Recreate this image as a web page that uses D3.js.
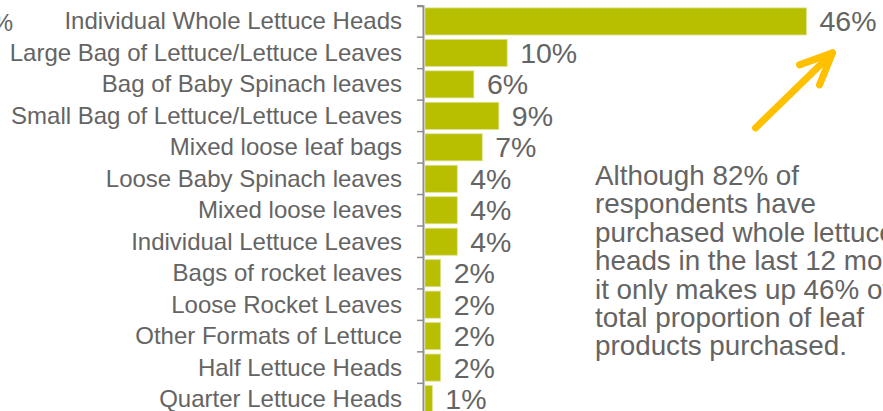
<!DOCTYPE html>
<html>
<head>
<meta charset="utf-8">
<script src="https://cdn.jsdelivr.net/npm/d3@7"></script>
<style>
  html, body { margin: 0; padding: 0; background: #fff; overflow: hidden; }
  svg { display: block; font-family: "Liberation Sans", Arial, sans-serif; }
</style>
</head>
<body>
<svg id="chart" width="883" height="411"></svg>
<script>
// Share of leaf products purchased, by format
const categories = [
  "Individual Whole Lettuce Heads",
  "Large Bag of Lettuce/Lettuce Leaves",
  "Bag of Baby Spinach leaves",
  "Small Bag of Lettuce/Lettuce Leaves",
  "Mixed loose leaf bags",
  "Loose Baby Spinach leaves",
  "Mixed loose leaves",
  "Individual Lettuce Leaves",
  "Bags of rocket leaves",
  "Loose Rocket Leaves",
  "Other Formats of Lettuce",
  "Half Lettuce Heads",
  "Quarter Lettuce Heads"
];
const values = [46, 10, 6, 9, 7, 4, 4, 4, 2, 2, 2, 2, 1];

const noteLines = [
  "Although 82% of",
  "respondents have",
  "purchased whole lettuce",
  "heads in the last 12 months,",
  "it only makes up 46% of the",
  "total proportion of leaf",
  "products purchased."
];

const svg = d3.select("#chart");
const textColor = "#646464";

const x = d3.scaleLinear().domain([0, 46]).range([424, 806.5]);
const y = d3.scaleBand()
  .domain(categories)
  .range([5.7, 5.7 + 31.47 * categories.length])
  .paddingInner(0.14)
  .paddingOuter(0.07);

// Stray tail of a neighbouring label at the top-left edge
svg.append("text")
  .attr("x", 13).attr("y", 31)
  .attr("text-anchor", "end")
  .attr("font-size", 24)
  .attr("fill", textColor)
  .text("%");

// Category axis: line and ticks only, labels drawn separately
const axis = d3.axisLeft(y).tickSize(6).tickSizeOuter(6).tickFormat("");
const ax = svg.append("g")
  .attr("transform", "translate(423,0)")
  .call(axis);
ax.select(".domain").attr("stroke", "#8e8e8e").attr("stroke-width", 2);
ax.selectAll(".tick line")
  .attr("stroke", "#8e8e8e").attr("stroke-width", 1.5)
  .attr("transform", `translate(0,${-y.step() / 2})`);

// Category labels
svg.append("g").selectAll("text")
  .data(categories)
  .join("text")
  .attr("x", 402)
  .attr("y", d => y(d) + y.bandwidth() / 2 + 8)
  .attr("text-anchor", "end")
  .attr("font-size", 24)
  .attr("fill", textColor)
  .text(d => d);

// Bars
svg.append("g").selectAll("rect")
  .data(values)
  .join("rect")
  .attr("x", x(0) + 1)
  .attr("y", (d, i) => y(categories[i]))
  .attr("width", d => x(d) - x(0) - 1)
  .attr("height", y.bandwidth())
  .attr("fill", "#b8be00")
  .attr("stroke", "#dde290")
  .attr("stroke-width", 0.8);

// Value labels
svg.append("g").selectAll("text")
  .data(values)
  .join("text")
  .attr("x", d => x(d) + 13)
  .attr("y", (d, i) => y(categories[i]) + y.bandwidth() / 2 + 10)
  .attr("font-size", 28.5)
  .attr("fill", textColor)
  .text(d => d + "%");

// Annotation
const note = svg.append("text")
  .attr("x", 595)
  .attr("font-size", 27.8)
  .attr("fill", textColor);
note.selectAll("tspan")
  .data(noteLines)
  .join("tspan")
  .attr("x", 595)
  .attr("y", (d, i) => 185 + i * 28.4)
  .text(d => d);

// Arrow pointing at the leading bar's value
const tipX = x(46) + 26;
const tipY = y(categories[1]) + y.bandwidth() / 2;
const arrow = svg.append("g")
  .attr("stroke", "#ffc000")
  .attr("stroke-width", 7)
  .attr("fill", "none")
  .attr("stroke-linecap", "round")
  .attr("stroke-linejoin", "round");
arrow.append("line")
  .attr("x1", tipX - 77).attr("y1", tipY + 75)
  .attr("x2", tipX).attr("y2", tipY);
arrow.append("polyline")
  .attr("points", [
    [tipX - 33, tipY + 12],
    [tipX, tipY],
    [tipX - 13, tipY + 32]
  ].map(p => p.join(",")).join(" "));
</script>
</body>
</html>
